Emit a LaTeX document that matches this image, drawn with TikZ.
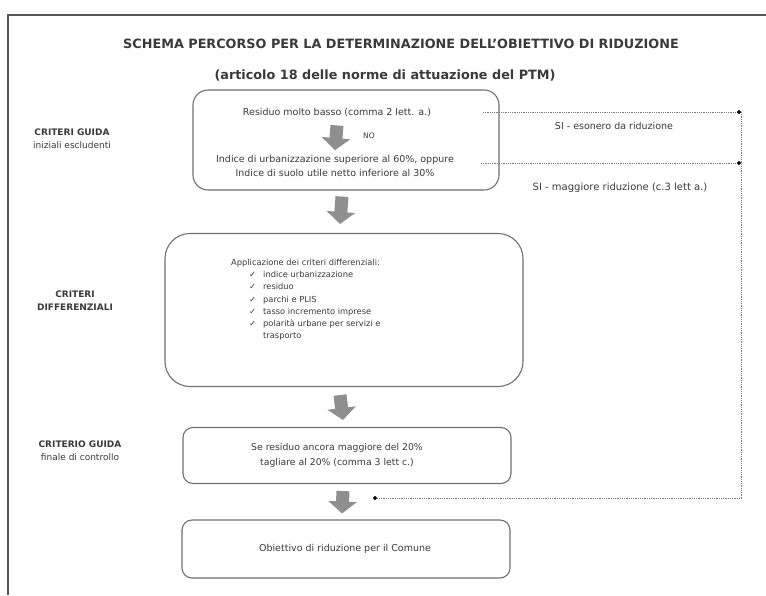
\documentclass[tikz,border=0pt]{standalone}
\usepackage{fontspec}
\setmainfont{DejaVu Sans}
\usetikzlibrary{arrows.meta}
\definecolor{txtc}{HTML}{3A3A3A}
\definecolor{boxc}{HTML}{707070}
\definecolor{arrc}{HTML}{8F8F8F}
\definecolor{dotc}{HTML}{7A7A7A}
\definecolor{framec}{HTML}{555555}
\begin{document}
\begin{tikzpicture}[x=1pt,y=-1pt,
  txt/.style={text=txtc, font=\fontsize{9.5}{14}\selectfont, inner sep=0pt, align=center},
  lbl/.style={text=txtc, font=\fontsize{9}{13}\selectfont, inner sep=0pt, align=center},
  box/.style={draw=boxc, line width=1.1pt, rounded corners=#1, inner sep=0pt},
  blk/.style={draw=arrc, line width=13pt, -{Triangle[length=12pt,width=28pt]}},
  dotline/.style={draw=dotc, line width=1pt, dash pattern=on 1pt off 0.8pt, -{Circle[length=4pt,width=4pt,color=black]}}]
\useasboundingbox[fill=white] (0,0) rectangle (766,595);
% frame
\draw[framec, line width=1.6pt] (8,595) -- (8,15) -- (766,15);
% title
\node[text=txtc, font=\fontsize{12.8}{15}\bfseries, inner sep=0pt] (title) at (401,44) {SCHEMA PERCORSO PER LA DETERMINAZIONE DELL'OBIETTIVO DI RIDUZIONE};
\node[text=txtc, font=\fontsize{12.8}{15}\bfseries, inner sep=0pt] (subtitle) at (385,75) {(articolo 18 delle norme di attuazione del PTM)};
% boxes
\node[box=15pt, minimum width=306pt, minimum height=100pt] (b1) at (346,140) {};
\node[box=25pt, minimum width=358pt, minimum height=153pt] (b2) at (344,310) {};
\node[box=10pt, minimum width=328pt, minimum height=56pt] (b3) at (347,455.5) {};
\node[box=10pt, minimum width=328pt, minimum height=58pt] (b4) at (346,549) {};
% box 1 texts
\node[txt] (r1) at (337,113) {Residuo molto basso (comma 2 lett. a.)};
\node[txt] (r2) at (335,166) {Indice di urbanizzazione superiore al 60\%, oppure\\Indice di suolo utile netto inferiore al 30\%};
\node[txt, font=\fontsize{7.5}{9}\selectfont] (no) at (369,136) {NO};
\draw[blk] ([yshift=-8pt]r1.south) -- ([yshift=5pt]r2.north);
% box 2 text
\node[txt, anchor=north west, align=left, font=\fontsize{8.3}{12.2}\selectfont] (b2t) at (231,259) {Applicazione dei criteri differenziali:\\
\hspace*{18pt}\makebox[14pt][l]{✓}indice urbanizzazione\\
\hspace*{18pt}\makebox[14pt][l]{✓}residuo\\
\hspace*{18pt}\makebox[14pt][l]{✓}parchi e PLIS\\
\hspace*{18pt}\makebox[14pt][l]{✓}tasso incremento imprese\\
\hspace*{18pt}\makebox[14pt][l]{✓}polarità urbane per servizi e\\
\hspace*{32pt}trasporto};
% box 3 text
\node[txt, font=\fontsize{9.3}{15}\selectfont] (b3t) at (337,455) {Se residuo ancora maggiore del 20\%\\tagliare al 20\% (comma 3 lett c.)};
% box 4 text
\node[txt] (b4t) at (345,549) {Obiettivo di riduzione per il Comune};
% left labels
\node[lbl] (l1) at (72,139) {\textbf{CRITERI GUIDA}\\iniziali escludenti};
\node[lbl] (l2) at (75,301) {\textbf{CRITERI}\\\textbf{DIFFERENZIALI}};
\node[lbl] (l3) at (80,451) {\textbf{CRITERIO GUIDA}\\finale di controllo};
% block arrows between boxes
\draw[blk] ([xshift=-4pt,yshift=-6pt]b1.south) -- ([xshift=-4pt,yshift=9pt]b2.north);
\draw[blk] ([xshift=-4pt,yshift=-8pt]b2.south) -- ([xshift=-4pt,yshift=7pt]b3.north);
\draw[blk] ([xshift=-4pt,yshift=-7pt]b3.south) -- ([xshift=-4pt,yshift=6pt]b4.north);
% dotted connectors
\coordinate (s1) at (483,112);
\coordinate (e1) at (741,112);
\coordinate (s2) at (481,163);
\coordinate (e2) at (741,163);
\coordinate (c3) at (741,498);
\coordinate (e3) at (373,498);
\draw[dotline] (s1) -- (e1);
\draw[dotline] (s2) -- (e2);
\draw[dotline] (e1) -- (c3) -- (e3);
\node[txt, font=\fontsize{9.5}{14}\selectfont] (si1) at (614,126) {SI - esonero da riduzione};
\node[txt, font=\fontsize{10}{14}\selectfont] (si2) at (620,188) {SI - maggiore riduzione (c.3 lett a.)};
\end{tikzpicture}
\end{document}
